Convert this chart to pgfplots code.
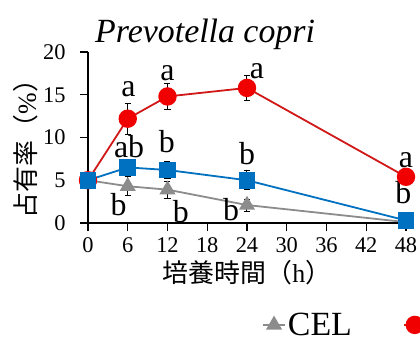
\documentclass[border=0pt]{standalone}
\usepackage{pgfplots}
\pgfplotsset{compat=1.18}
\usepackage{fontspec}
\setmainfont{Liberation Serif}
\newfontfamily\cjk{Noto Sans CJK JP}
\definecolor{cred}{HTML}{F00000}
\definecolor{credline}{HTML}{D01818}
\definecolor{cblue}{HTML}{0070C0}
\definecolor{cgray}{HTML}{8C8C8C}
\pgfplotstableread{
x y e
0 5.0 0
6 4.3 1.1
12 3.9 1.0
24 2.1 0.7
48 0.1 0.1
}\gray
\pgfplotstableread{
x y e
0 5.0 0
6 12.2 1.8
12 14.8 1.5
24 15.8 1.5
48 5.4 0.3
}\red
\pgfplotstableread{
x y e
0 5.0 0.3
6 6.5 0.8
12 6.2 1.0
24 5.0 1.1
48 0.3 0.2
}\blue
\begin{document}
\begin{tikzpicture}
\begin{axis}[
 scale only axis, width=318bp, height=171bp,
 xmin=0, xmax=48, ymin=0, ymax=20,
 axis x line=bottom, axis y line=left,
 axis line style={-, line width=1.6bp, black},
 xtick={0,6,...,48}, ytick={0,5,...,20},
 tick align=outside, major tick length=8bp,
 tick style={line width=1.4bp, black},
 /pgf/number format/assume math mode=true,
 tick label style={font=\fontsize{22.5}{26}\selectfont\rmfamily},
 yticklabel style={xshift=-11bp},
 xticklabel style={yshift=-3bp},
 clip=false,
 xlabel={{\cjk 培養時間（}h{\cjk ）}},
 xlabel style={at={(axis description cs:0.5,-0.292)}, anchor=center, font=\fontsize{26}{30}\selectfont},
 ylabel={{\cjk 占有率（}\%{\cjk ）}},
 ylabel style={at={(axis description cs:-0.195,0.47)}, anchor=center, font=\fontsize{26}{30}\selectfont},
 legend columns=3,
 legend style={at={(axis description cs:0.547,-0.596)}, anchor=west, draw=none, fill=none, inner sep=0pt,
   font=\fontsize{34}{38}\selectfont, /tikz/every even column/.append style={column sep=49bp}},
 legend image code/.code={\draw[mark repeat=2,mark phase=2,#1] plot coordinates {(0bp,0bp) (11bp,0bp) (22bp,0bp)};},
 error bars/y dir=both, error bars/y explicit,
 error bars/error bar style={line width=1bp, black},
 error bars/error mark options={rotate=90, mark size=3bp, line width=1bp, black},
]
\addplot[cgray, line width=1.8bp, mark=triangle*, mark size=7.5bp, mark options={fill=cgray, draw=cgray}] table[x=x, y=y, y error=e] {\gray};
\addlegendentry{CEL}
\addplot[credline, line width=1.8bp, mark=*, mark size=8.3bp, mark options={fill=cred, draw=cred}] table[x=x, y=y, y error=e] {\red};
\addlegendentry{XOS}
\addplot[cblue, line width=1.8bp, mark=square*, mark size=7.5bp, mark options={fill=cblue, draw=cblue}] table[x=x, y=y, y error=e] {\blue};
\addlegendentry{CON}
\begin{scope}[every node/.style={font=\fontsize{32}{36}\selectfont, inner sep=0pt}]
\node at (axis cs:6.1,15.6) {a};
\node at (axis cs:12.0,17.5) {a};
\node at (axis cs:25.5,17.7) {a};
\node at (axis cs:48,7.4) {a};
\node at (axis cs:6.2,8.9) {ab};
\node at (axis cs:11.9,9.5) {b};
\node at (axis cs:24,8.1) {b};
\node at (axis cs:47.6,3.5) {b};
\node at (axis cs:4.6,2.1) {b};
\node at (axis cs:14.0,1.3) {b};
\node at (axis cs:21.6,1.6) {b};
\end{scope}
\end{axis}
\node[anchor=base west, font=\fontsize{34}{38}\selectfont\itshape, inner sep=0pt] at (7bp,180bp) {Prevotella copri};
\pgfresetboundingbox
\path (-88bp,-117bp) rectangle (332bp,223bp);
\end{tikzpicture}
\end{document}
